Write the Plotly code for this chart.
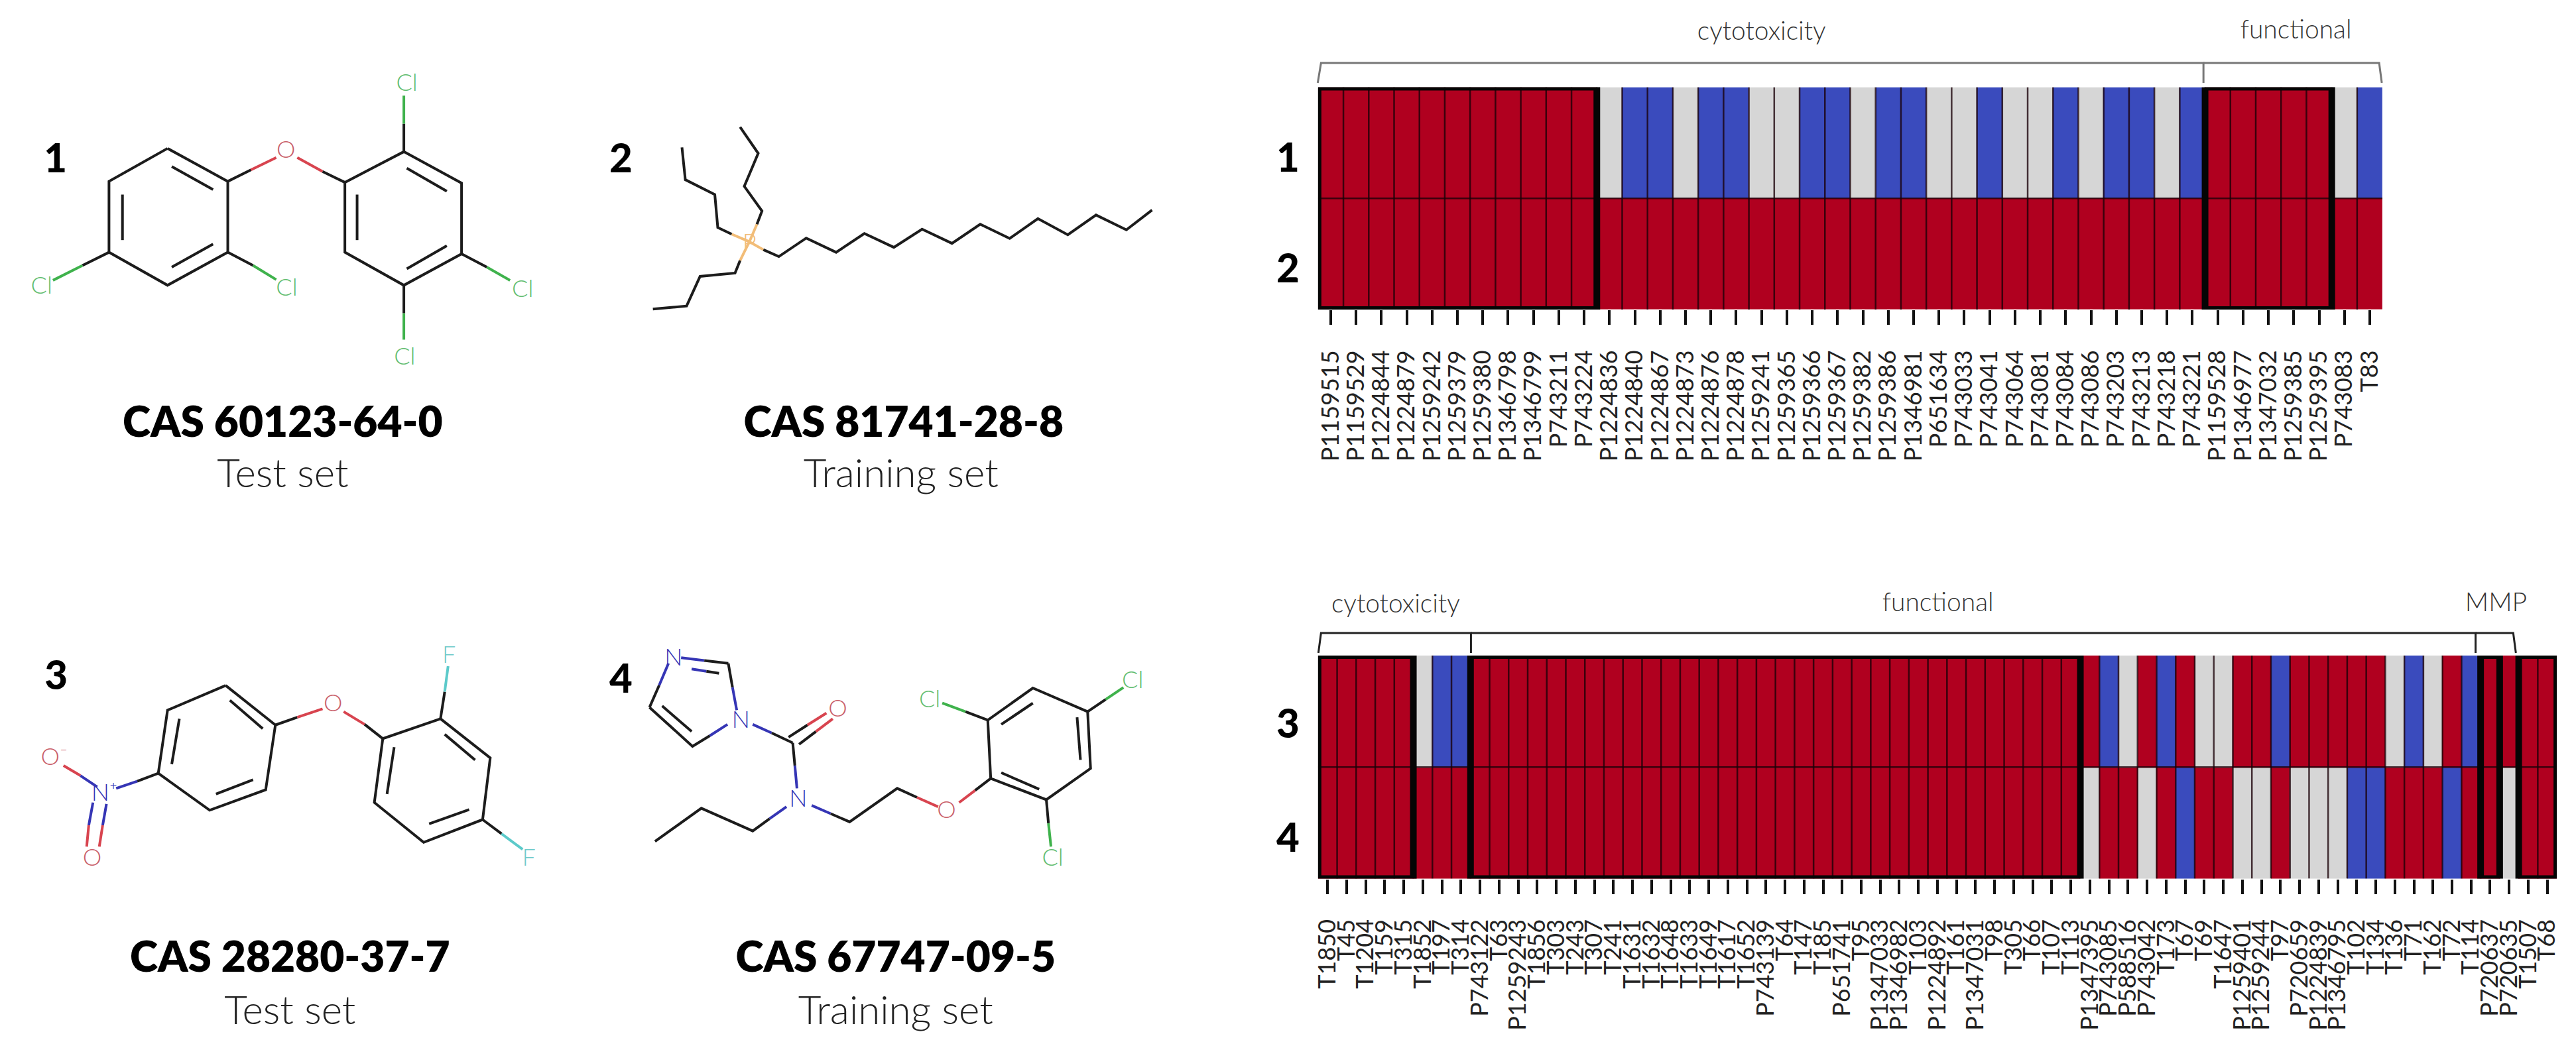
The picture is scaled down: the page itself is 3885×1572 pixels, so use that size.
import plotly.graph_objects as go

W, H = 3885, 1572
RED, GRAY_C, BLUE = "#b0001f", "#d6d6d6", "#3a4bbd"
FONT = "Lato"

# ---------- heat-map data (1 active, 0 inconclusive, -1 inactive) ----------
labels_12 = ["P1159515","P1159529","P1224844","P1224879","P1259242","P1259379","P1259380","P1346798","P1346799","P743211","P743224",
             "P1224836","P1224840","P1224867","P1224873","P1224876","P1224878","P1259241","P1259365","P1259366","P1259367","P1259382",
             "P1259386","P1346981","P651634","P743033","P743041","P743064","P743081","P743084","P743086","P743203","P743213","P743218",
             "P743221","P1159528","P1346977","P1347032","P1259385","P1259395","P743083","T83"]
row_1 = [1,1,1,1,1,1,1,1,1,1,1, 0,-1,-1,0,-1,-1,0,0,-1,-1,0,-1,-1,0,0,-1,0,0,-1,0,-1,-1,0,-1, 1,1,1,1,1, 0,-1]
row_2 = [1,1,1,1,1,1,1,1,1,1,1, 1,1,1,1,1,1,1,1,1,1,1,1,1,1,1,1,1,1,1,1,1,1,1,1, 1,1,1,1,1, 1,1]
blocks_12 = [(0, 10), (35, 39)]

labels_34 = ["T1850","T45","T1204","T159","T315","T1852","T197","T314","P743122","T63","P1259243","T1856","T303","T243","T307","T241",
             "T1631","T1632","T1648","T1633","T1649","T1617","T1652","P743139","T64","T147","T185","P651741","T95","P1347033","P1346982",
             "T103","P1224892","T161","P1347031","T98","T305","T66","T107","T113","P1347395","P743085","P588516","P743042","T173","T67",
             "T69","T1647","P1259401","P1259244","T97","P720659","P1224839","P1346795","T102","T134","T136","T71","T162","T72","T114",
             "P720637","P720635","T1507","T68"]
row_3 = [1,1,1,1,1, 0,-1,-1,
         1,1,1,1,1,1,1,1,1,1,1,1,1,1,1,1,1,1,1,1,1,1,1,1,1,1,1,1,1,1,1,1,
         1,-1,0,1,-1,1,0,0,1,1,-1,1,1,1,1,1,0,-1,0,1,-1, 1,1,1,1]
row_4 = [1,1,1,1,1, 1,1,1,
         1,1,1,1,1,1,1,1,1,1,1,1,1,1,1,1,1,1,1,1,1,1,1,1,1,1,1,1,1,1,1,1,
         0,1,1,0,1,-1,1,1,0,0,1,0,0,0,-1,-1,1,1,1,-1,1, 1,0,1,1]
blocks_34 = [(0, 4), (8, 39), (61, 61), (63, 64)]

# ---------- panel geometry ----------
panel_12 = dict(left=1985.5, right=3597, top=131.6, bottom=467)
panel_34 = dict(left=1985.5, right=3861, top=989, bottom=1325.5)

brackets = [
    ("#777777", [(1985,125),(1990,95),(3326,95),(3326,125)]),
    ("#777777", [(3326,95),(3592,95),(3596,125)]),
    ("#222222", [(1986,985),(1990,955),(2217,955),(2217,985)]),
    ("#222222", [(2217,955),(3738,955),(3738,985)]),
    ("#222222", [(3738,955),(3795,955),(3799,985)]),
]
group_texts = [("cytotoxicity",2657,50),("functional",3466,48),("cytotoxicity",2103,914),("functional",2924,912),("MMP",3769,912)]
row_texts = [("1",1940,244),("2",1940,411),("3",1940,1098),("4",1940,1270)]
mol_numbers = [("1",74,245),("2",930,245),("3",75,1025),("4",930,1030)]
cas_texts = [("CAS 60123-64-0",418,643),("CAS 81741-28-8",1358,643),("CAS 28280-37-7",429,1450),("CAS 67747-09-5",1346,1450)]
set_texts = [("Test set",418,720),("Training set",1354,720),("Test set",429,1530),("Training set",1346,1530)]

# ---------- molecule sketches: points in crop units, with origin and scale ----------
K, GR, RD, BL, TL, OR = "#1c1c1c", "#3fb24c", "#d8444f", "#3535b5", "#5ccaca", "#f2bd78"

mol_1 = dict(x0=0, y0=0, sx=1.568, sy=2.01, bonds=[
    (K,[(382,450),(525,550),(525,765),(382,865),(243,765),(243,550),(382,450)]),
    (K,[(392,505),(490,575)]),(K,[(490,740),(392,810)]),(K,[(275,590),(275,728)]),
    (K,[(525,550),(580,515)]),(RD,[(580,515),(640,478)]),(RD,[(690,478),(750,520)]),(K,[(750,520),(803,553)]),
    (K,[(943,460),(1080,555),(1080,770),(943,865),(803,765),(803,553),(943,460)]),
    (K,[(950,510),(1045,580)]),(K,[(1045,745),(950,815)]),(K,[(832,590),(832,728)]),
    (K,[(943,460),(943,375)]),(GR,[(943,375),(943,290)]),
    (K,[(1080,770),(1140,810)]),(GR,[(1140,810),(1195,850)]),
    (K,[(943,865),(943,950)]),(GR,[(943,950),(943,1030)]),
    (K,[(525,765),(585,805)]),(GR,[(585,805),(640,848)]),
    (K,[(243,765),(180,805)]),(GR,[(180,805),(110,850)]),
], atoms=[("O",663,460,"#c9606a"),("Cl",950,258,"#62bd70"),("Cl",1225,883,"#62bd70"),("Cl",945,1088,"#62bd70"),("Cl",665,878,"#62bd70"),("Cl",83,873,"#62bd70")])

mol_2 = dict(x0=900, y0=0, sx=1.568, sy=2.01, bonds=[
    (K,[(1308,637),(1247,697),(1175,652),(1108,712),(1037,663),(970,723),(900,680),(833,738),(762,695),(695,750),(625,708),(558,765),(487,722),(422,778),(385,757)]),
    (OR,[(385,757),(352,733)]),
    (OR,[(352,733),(370,680)]),(K,[(370,680),(382,640),(340,565),(373,465),(330,385)]),
    (OR,[(352,733),(310,710)]),(K,[(310,710),(277,690),(270,590),(200,545),(192,447)]),
    (OR,[(352,733),(330,790)]),(K,[(330,790),(318,828),(235,838),(203,928),(123,937)]),
], atoms=[("P",352,741,"#f2bd78")])

mol_3 = dict(x0=0, y0=900, sx=1.568, sy=2.333, bonds=[
    (K,[(520,313),(638,452),(615,680),(482,752),(360,622),(382,400),(520,313)]),
    (K,[(530,365),(608,465)]),(K,[(585,645),(497,695)]),(K,[(410,430),(392,590)]),
    (K,[(638,452),(690,425)]),(RD,[(690,425),(750,395)]),(RD,[(800,405),(850,450)]),(K,[(850,450),(893,500)]),
    (K,[(1030,430),(1148,568),(1130,785),(990,865),(873,725),(893,500),(1030,430)]),
    (K,[(1040,485),(1112,575)]),(K,[(1098,750),(1003,800)]),(K,[(920,530),(903,695)]),
    (K,[(1030,430),(1040,335)]),(TL,[(1040,335),(1048,245)]),
    (K,[(1130,785),(1175,835)]),(TL,[(1175,835),(1225,890)]),
    (K,[(360,622),(310,650)]),(BL,[(310,650),(260,675)]),
    (BL,[(215,670),(175,630)]),(RD,[(175,630),(135,595)]),
    (BL,[(205,725),(195,805)]),(RD,[(195,805),(190,880)]),
    (BL,[(237,730),(228,805)]),(RD,[(228,805),(220,880)]),
], atoms=[("O",775,382,"#c9606a"),("F",1050,212,"#6fcaca"),("F",1240,927,"#6fcaca"),("N⁺",232,697,BL),("O⁻",113,572,"#c9606a"),("O",203,927,"#c9606a")])

mol_4 = dict(x0=900, y0=900, sx=1.568, sy=2.333, bonds=[
    (BL,[(190,215),(245,225)]),(K,[(245,225),(302,235)]),(BL,[(215,255),(250,263)]),(K,[(250,263),(280,270)]),
    (K,[(302,235),(312,320)]),(BL,[(312,320),(322,400)]),(BL,[(300,450),(258,490)]),(K,[(258,490),(217,527),(115,390)]),
    (K,[(215,475),(145,385)]),(K,[(115,390),(138,312)]),(BL,[(138,312),(160,235)]),
    (BL,[(360,450),(405,480)]),(K,[(405,480),(455,515)]),
    (K,[(445,495),(490,452)]),(RD,[(490,452),(535,410)]),(K,[(470,520),(510,475)]),(RD,[(510,475),(550,430)]),
    (K,[(455,515),(460,595)]),(BL,[(460,595),(465,675)]),
    (BL,[(440,740),(400,782)]),(K,[(400,782),(360,825),(238,745),(128,862)]),
    (BL,[(500,735),(545,764)]),(K,[(545,764),(590,793),(703,675),(750,707)]),(RD,[(750,707),(800,740)]),
    (RD,[(850,725),(888,682)]),(K,[(888,682),(925,640)]),
    (K,[(925,640),(918,435),(1025,322),(1155,405),(1162,605),(1057,715),(925,640)]),
    (K,[(950,450),(1025,375)]),(K,[(1130,425),(1138,575)]),(K,[(1040,678),(950,620)]),
    (K,[(918,435),(865,405)]),(GR,[(865,405),(810,375)]),
    (K,[(1155,405),(1198,362)]),(GR,[(1198,362),(1240,320)]),
    (K,[(1057,715),(1062,798)]),(GR,[(1062,798),(1068,880)]),
], atoms=[("N",172,222,BL),("N",332,442,BL),("O",562,402,"#c9606a"),("N",468,719,BL),("O",820,759,"#c9606a"),
          ("Cl",780,369,"#62bd70"),("Cl",1262,302,"#62bd70"),("Cl",1072,927,"#62bd70")])

fig = go.Figure()

# ---------- full-canvas drawing layer ----------
def lines(x, y, color, width):
    fig.add_trace(go.Scatter(x=x, y=y, mode="lines", xaxis="x3", yaxis="y3", hoverinfo="skip", showlegend=False,
                             line=dict(color=color, width=width, shape="linear"), cliponaxis=False))

def texts(items, size, color, weight=400):
    fig.add_trace(go.Scatter(x=[t[1] for t in items], y=[t[2] for t in items], text=[t[0] for t in items],
                             mode="text", xaxis="x3", yaxis="y3", hoverinfo="skip", showlegend=False,
                             textposition="middle center", cliponaxis=False,
                             textfont=dict(family=FONT, size=size, color=color, weight=weight)))

for mol in (mol_1, mol_2, mol_3, mol_4):
    for color, pts in mol["bonds"]:
        lines([mol["x0"] + p[0] / mol["sx"] for p in pts], [mol["y0"] + p[1] / mol["sy"] for p in pts], color, 4)
    for name, ax, ay, color in mol["atoms"]:
        texts([(name, mol["x0"] + ax / mol["sx"], mol["y0"] + ay / mol["sy"])], 36, color, 300)

for color, pts in brackets:
    lines([p[0] for p in pts], [p[1] for p in pts], color, 3)

texts(group_texts, 39, "#333333", 300)
texts(row_texts, 60, "#000000", 900)
texts(mol_numbers, 60, "#000000", 900)
texts(cas_texts, 64, "#000000", 800)
texts(set_texts, 60, "#222222", 300)

# ---------- heat maps ----------
SCALE = [[0, BLUE], [0.5, GRAY_C], [1, RED]]

def add_panel(rows, labels, blocks, xa, ya):
    n = len(labels)
    fig.add_trace(go.Heatmap(z=rows, x=list(range(n)), y=[0, 1], xaxis=xa, yaxis=ya, zmin=-1, zmax=1,
                             colorscale=SCALE, showscale=False, hoverinfo="skip"))
    sx, sy = [], []
    for k in range(1, n):
        sx += [k - 0.5, k - 0.5, None]
        sy += [-0.5, 1.5, None]
    sx += [-0.5, n - 0.5]
    sy += [0.5, 0.5]
    fig.add_trace(go.Scatter(x=sx, y=sy, xaxis=xa, yaxis=ya, mode="lines", hoverinfo="skip", showlegend=False,
                             line=dict(color="rgba(25,0,8,0.78)", width=2.5)))
    for a, b in blocks:
        fig.add_trace(go.Scatter(x=[a-0.5, b+0.5, b+0.5, a-0.5, a-0.5], y=[-0.5, -0.5, 1.5, 1.5, -0.5],
                                 xaxis=xa, yaxis=ya, mode="lines", hoverinfo="skip", showlegend=False, cliponaxis=False,
                                 line=dict(color="#050505", width=10)))

add_panel([row_1, row_2], labels_12, blocks_12, "x", "y")
add_panel([row_3, row_4], labels_34, blocks_34, "x2", "y2")

def xaxis_for(panel, labels, anchor, standoff):
    return dict(domain=[panel["left"]/W, panel["right"]/W], range=[-0.5, len(labels)-0.5], anchor=anchor,
                tickmode="array", tickvals=list(range(len(labels))), ticktext=labels, tickangle=-90,
                ticks="outside", ticklen=22, tickwidth=4, tickcolor="#111111", ticklabelstandoff=standoff,
                tickfont=dict(family=FONT, size=36, color="#222222", weight=400),
                showgrid=False, zeroline=False, showline=False)

def yaxis_for(panel, anchor):
    return dict(domain=[1-panel["bottom"]/H, 1-panel["top"]/H], range=[1.5, -0.5], anchor=anchor,
                showticklabels=False, ticks="", showgrid=False, zeroline=False, showline=False)

fig.update_layout(
    width=W, height=H, margin=dict(l=0, r=0, t=0, b=0), paper_bgcolor="white", plot_bgcolor="rgba(0,0,0,0)",
    showlegend=False, font=dict(family=FONT),
    xaxis=xaxis_for(panel_12, labels_12, "y", 24),
    yaxis=yaxis_for(panel_12, "x"),
    xaxis2=xaxis_for(panel_34, labels_34, "y2", 24),
    yaxis2=yaxis_for(panel_34, "x2"),
    xaxis3=dict(domain=[0, 1], range=[0, W], anchor="y3", visible=False, fixedrange=True),
    yaxis3=dict(domain=[0, 1], range=[H, 0], anchor="x3", visible=False, fixedrange=True),
)

fig.write_html("out.html", config=dict(displayModeBar=False),
               post_script="document.body.style.margin='0';")
